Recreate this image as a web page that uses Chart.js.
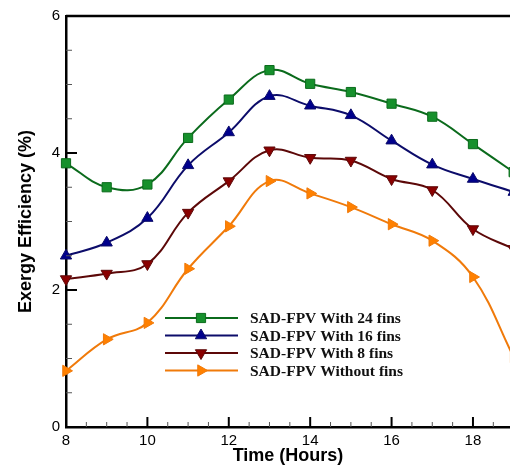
<!DOCTYPE html>
<html>
<head>
<meta charset="utf-8">
<script src="https://cdn.jsdelivr.net/npm/chart.js@4/dist/chart.umd.min.js"></script>
<style>
html,body{margin:0;padding:0;background:#fff;}
canvas{display:block;}
</style>
</head>
<body>
<canvas id="c" width="510" height="467"></canvas>
<script>
// ---- data ----
const hours = [8, 9, 10, 11, 12, 13, 14, 15, 16, 17, 18, 19];
const fins24 = [3.85, 3.50, 3.54, 4.22, 4.78, 5.21, 5.01, 4.89, 4.72, 4.53, 4.13, 3.72];
const fins16 = [2.50, 2.69, 3.05, 3.82, 4.30, 4.83, 4.69, 4.55, 4.18, 3.83, 3.62, 3.43];
const fins8  = [2.16, 2.24, 2.38, 3.13, 3.59, 4.04, 3.93, 3.89, 3.62, 3.46, 2.89, 2.60];
const noFins = [0.82, 1.28, 1.52, 2.31, 2.93, 3.59, 3.41, 3.21, 2.96, 2.72, 2.19, 1.02];
const seriesNames = ['SAD-FPV With 24 fins', 'SAD-FPV With 16 fins', 'SAD-FPV With 8 fins', 'SAD-FPV Without fins'];
const xTicks = [8, 10, 12, 14, 16, 18];
const yTicks = [0, 2, 4, 6];

const styles = [
  {line: '#0b6b1c', fill: '#16902c', point: 'rect', rot: 0, r: 6.5},
  {line: '#0c0c6a', fill: '#00008c', point: 'triangle', rot: 0, r: 6.5},
  {line: '#5c0808', fill: '#8a0000', point: 'triangle', rot: 180, r: 6.5},
  {line: '#f07a0a', fill: '#ff8000', point: 'triangle', rot: 90, r: 6.5}
];
const allSeries = [fins24, fins16, fins8, noFins];

const datasets = allSeries.map((vals, i) => ({
  label: seriesNames[i],
  data: hours.map((h, j) => ({x: h, y: vals[j]})),
  borderColor: styles[i].line,
  borderWidth: 2,
  backgroundColor: styles[i].fill,
  pointBackgroundColor: styles[i].fill,
  pointBorderColor: styles[i].line,
  pointBorderWidth: 1,
  pointStyle: styles[i].point,
  pointRotation: styles[i].rot,
  pointRadius: styles[i].r,
  tension: 0.4,
  clip: false
}));

const axisDeco = {
  id: 'axisDeco',
  afterDraw(chart) {
    const ctx = chart.ctx;
    const a = chart.chartArea;
    const xs = chart.scales.x, ys = chart.scales.y;
    ctx.save();
    ctx.strokeStyle = '#000';
    // top border
    ctx.lineWidth = 2.5;
    ctx.beginPath();
    ctx.moveTo(a.left, a.top);
    ctx.lineTo(a.right, a.top);
    ctx.stroke();
    // x ticks
    for (let v = 8; v <= 18.9; v += 0.5) {
      const px = xs.getPixelForValue(v);
      const major = xTicks.includes(v);
      ctx.lineWidth = major ? 2 : 1;
      ctx.strokeStyle = major ? '#000' : '#555';
      ctx.beginPath();
      ctx.moveTo(px, a.bottom);
      ctx.lineTo(px, a.bottom - (major ? 10 : 5));
      ctx.stroke();
    }
    for (let v = 0; v <= 6; v += 0.5) {
      const py = ys.getPixelForValue(v);
      const major = yTicks.includes(v);
      ctx.lineWidth = major ? 2 : 1;
      ctx.strokeStyle = major ? '#000' : '#555';
      ctx.beginPath();
      ctx.moveTo(a.left, py);
      ctx.lineTo(a.left + (major ? 11 : 6), py);
      ctx.stroke();
    }
    // legend
    const lx0 = 165, lx1 = 238, mx = 201, tx = 250;
    const rows = [318, 335.5, 353, 370.5];
    ctx.font = 'bold 15.5px "Liberation Serif", "Times New Roman", serif';
    ctx.textBaseline = 'middle';
    ctx.textAlign = 'left';
    rows.forEach((ry, i) => {
      const s = styles[i];
      ctx.strokeStyle = s.line;
      ctx.lineWidth = 2;
      ctx.beginPath();
      ctx.moveTo(lx0, ry);
      ctx.lineTo(lx1, ry);
      ctx.stroke();
      ctx.fillStyle = s.fill;
      ctx.strokeStyle = s.line;
      ctx.lineWidth = 1;
      Chart.helpers.drawPoint(ctx, {pointStyle: s.point, rotation: s.rot, radius: s.r, borderWidth: 1}, mx, ry);
      ctx.fillStyle = '#111';
      ctx.fillText(seriesNames[i], tx, ry + 1);
    });
    ctx.restore();
  }
};

new Chart(document.getElementById('c'), {
  type: 'line',
  data: {datasets},
  plugins: [axisDeco],
  options: {
    responsive: false,
    devicePixelRatio: 1,
    animation: false,
    layout: {autoPadding: false, padding: {top: 16, right: 0, left: 0, bottom: 0}},
    plugins: {legend: {display: false}, tooltip: {enabled: false}},
    scales: {
      x: {
        type: 'linear',
        min: 8,
        max: 18.91,
        afterBuildTicks(scale) { scale.ticks = xTicks.map(v => ({value: v})); },
        afterFit(scale) { scale.height = 40; },
        grid: {display: false, drawTicks: false},
        border: {display: true, color: '#000', width: 2.5},
        ticks: {color: '#000', padding: 5, font: {family: '"Liberation Sans", Arial, sans-serif', size: 15}},
        title: {display: true, text: 'Time (Hours)', color: '#000', padding: {top: 0, bottom: 0},
          font: {family: '"Liberation Sans", Arial, sans-serif', size: 18, weight: 'bold'}}
      },
      y: {
        min: 0,
        max: 6,
        afterBuildTicks(scale) { scale.ticks = yTicks.map(v => ({value: v})); },
        afterFit(scale) { scale.width = 66; },
        grid: {display: false, drawTicks: false},
        border: {display: true, color: '#000', width: 2.5},
        ticks: {color: '#000', padding: 6, font: {family: '"Liberation Sans", Arial, sans-serif', size: 15}},
        title: {display: true, text: 'Exergy Efficiency (%)', color: '#000', padding: {top: 15, bottom: 0},
          font: {family: '"Liberation Sans", Arial, sans-serif', size: 18, weight: 'bold'}}
      }
    }
  }
});
</script>
</body>
</html>
